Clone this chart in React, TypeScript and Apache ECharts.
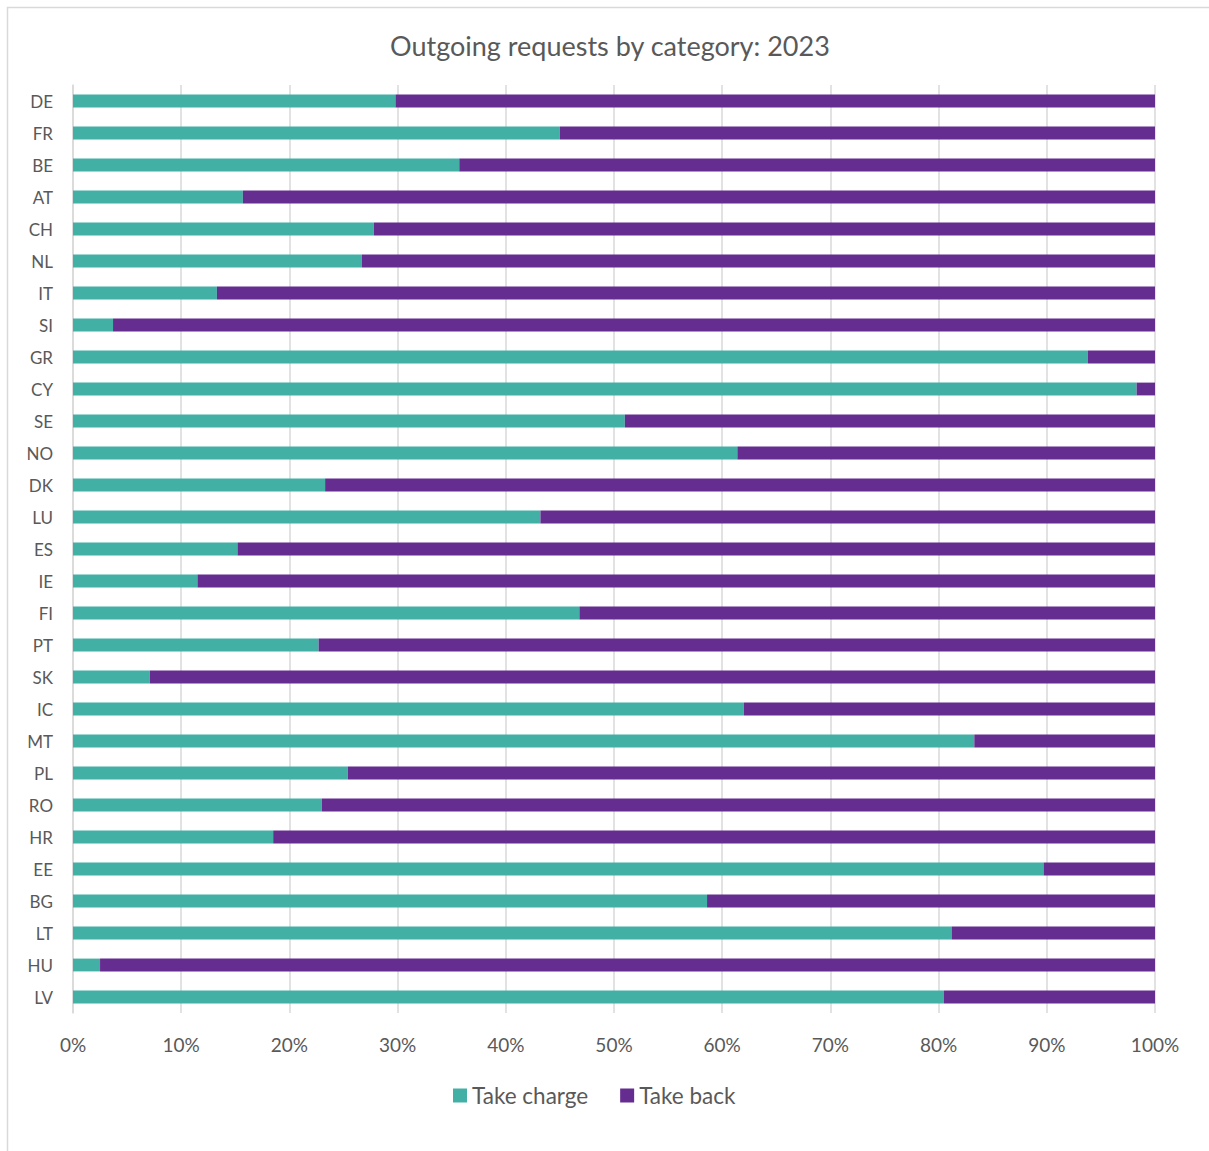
import React, { useEffect, useRef } from "react";
import * as echarts from "echarts";

const categories = ["DE","FR","BE","AT","CH","NL","IT","SI","GR","CY","SE","NO","DK","LU","ES","IE","FI","PT","SK","IC","MT","PL","RO","HR","EE","BG","LT","HU","LV"];
const takeCharge = [29.8,45.0,35.7,15.7,27.8,26.7,13.3,3.7,93.8,98.3,51.0,61.4,23.3,43.2,15.2,11.5,46.8,22.7,7.1,62.0,83.3,25.4,23.0,18.5,89.7,58.6,81.2,2.5,80.5];
const takeBack = [70.2,55.0,64.3,84.3,72.2,73.3,86.7,96.3,6.2,1.7,49.0,38.6,76.7,56.8,84.8,88.5,53.2,77.3,92.9,38.0,16.7,74.6,77.0,81.5,10.3,41.4,18.8,97.5,19.5];
const xTicks = [0,10,20,30,40,50,60,70,80,90,100];

const FONT = "Lato, 'Open Sans', sans-serif";
const GRAY = "#595959";

export default function App() {
  const ref = useRef<HTMLDivElement>(null);
  useEffect(() => {
    if (!ref.current) return;
    const chart = echarts.init(ref.current, null, { renderer: "svg" });
    chart.setOption({
      animation: false,
      backgroundColor: "#ffffff",
      title: {
        text: "Outgoing requests by category: 2023",
        left: 385,
        top: 27,
        textStyle: { fontFamily: FONT, fontSize: 27, fontWeight: "normal", color: GRAY },
      },
      graphic: [
        {
          type: "rect",
          shape: { x: 7.5, y: 7.5, width: 1400, height: 1400 },
          style: { fill: "none", stroke: "#d9d9d9", lineWidth: 1.5 },
          silent: true,
        },
      ],
      legend: {
        bottom: 39,
        left: 448,
        icon: "rect",
        itemWidth: 14,
        itemHeight: 14,
        itemGap: 32,
        textStyle: { fontFamily: FONT, fontSize: 22.5, color: GRAY },
        data: ["Take charge", "Take back"],
      },
      grid: { left: 73, right: 54, top: 85, bottom: 138, containLabel: false },
      xAxis: {
        type: "value",
        min: 0,
        max: 100,
        interval: 10,
        axisLabel: {
          formatter: (v: number) => (xTicks.includes(v) ? v + "%" : ""),
          fontFamily: FONT,
          fontSize: 19,
          color: GRAY,
          margin: 22,
        },
        splitLine: { show: true, lineStyle: { color: "#d9d9d9", width: 1.5 } },
        axisLine: { show: false },
        axisTick: { show: false },
      },
      yAxis: {
        type: "category",
        data: categories,
        inverse: true,
        axisLabel: { fontFamily: FONT, fontSize: 17, color: GRAY, margin: 20 },
        axisLine: { show: true, lineStyle: { color: "#d9d9d9", width: 1.5 } },
        axisTick: { show: false },
      },
      series: [
        {
          name: "Take charge",
          type: "bar",
          stack: "total",
          data: takeCharge,
          barWidth: "40%",
          itemStyle: { color: "#43b0a6" },
        },
        {
          name: "Take back",
          type: "bar",
          stack: "total",
          data: takeBack,
          barWidth: "40%",
          itemStyle: { color: "#662d91" },
        },
      ],
    });
    return () => chart.dispose();
  }, []);
  return (
    <div
      ref={ref}
      style={{ position: "absolute", left: 0, top: 0, width: 1209, height: 1151 }}
    />
  );
}
